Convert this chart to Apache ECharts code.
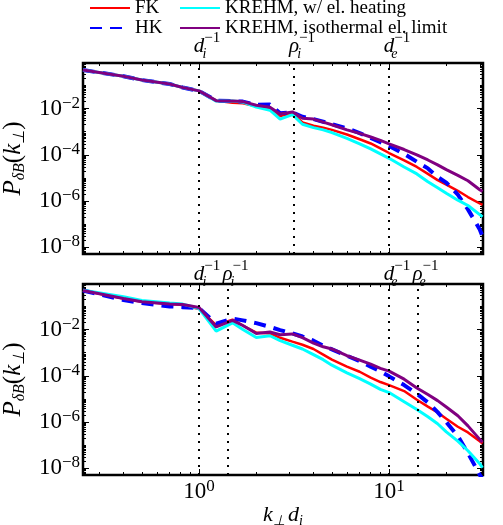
<!DOCTYPE html>
<html>
<head>
<meta charset="utf-8">
<script src="https://cdn.jsdelivr.net/npm/echarts@6/dist/echarts.min.js"></script>
<style>
  html, body { margin: 0; padding: 0; background: #fff; }
  #main { width: 503px; height: 525px; }
</style>
</head>
<body>
<div id="main"></div>
<script>
// k_perp d_i sample points shared by all curves
const kPerp = [0.245, 0.4, 0.5, 0.7, 0.82, 1.0, 1.23, 1.5, 1.7, 2.0, 2.36, 2.67, 3.1, 3.5, 4, 4.5, 5, 6, 7, 8, 9, 10, 12, 14, 16, 18, 20, 23, 26, 30, 31];

// top panel
const topFK = [4.6e-1, 2.5e-1, 1.7e-1, 1.15e-1, 8.1e-2, 5.8e-2, 2.2e-2, 1.8e-2, 1.7e-2, 1.26e-2, 9.3e-3, 4.7e-3, 6.3e-3, 2.5e-3, 1.8e-3, 1.5e-3, 1.2e-3, 7.6e-4, 4.7e-4, 3.1e-4, 1.9e-4, 1.2e-4, 5.8e-5, 3.0e-5, 1.5e-5, 8.1e-6, 5.2e-6, 2.8e-6, 1.5e-6, 7.9e-7, 6.9e-7];
const topHK = [4.6e-1, 2.5e-1, 1.7e-1, 1.15e-1, 8.1e-2, 5.8e-2, 2.2e-2, 2.1e-2, 2.0e-2, 1.45e-2, 1.5e-2, 6.3e-3, 6.9e-3, 4.4e-3, 3.5e-3, 2.7e-3, 2.1e-3, 1.4e-3, 8.7e-4, 5.4e-4, 3.5e-4, 2.4e-4, 1.1e-4, 5.0e-5, 2.6e-5, 1.1e-5, 6.3e-6, 1.9e-6, 4.4e-7, 6.0e-8, 3.0e-8];
const topHeat = [4.6e-1, 2.5e-1, 1.7e-1, 1.15e-1, 8.1e-2, 5.8e-2, 2.1e-2, 2.1e-2, 1.9e-2, 1.15e-2, 8.5e-3, 3.5e-3, 5.5e-3, 2.1e-3, 1.5e-3, 1.2e-3, 9.1e-4, 5.1e-4, 3.0e-4, 1.8e-4, 1.1e-4, 7.1e-5, 3.0e-5, 1.5e-5, 6.9e-6, 3.8e-6, 2.2e-6, 1.1e-6, 6.5e-7, 2.6e-7, 2.1e-7];
const topIso = [4.6e-1, 2.5e-1, 1.7e-1, 1.15e-1, 8.1e-2, 5.8e-2, 2.2e-2, 2.1e-2, 2.0e-2, 1.4e-2, 1.15e-2, 5.8e-3, 7.2e-3, 3.8e-3, 3.5e-3, 2.6e-3, 2.0e-3, 1.2e-3, 8.5e-4, 5.9e-4, 4.2e-4, 3.0e-4, 1.7e-4, 1.0e-4, 6.0e-5, 3.7e-5, 2.3e-5, 1.3e-5, 7.6e-6, 3.1e-6, 2.6e-6];

// bottom panel
const botFK = [4.9e-1, 2.2e-1, 1.6e-1, 1.26e-1, 1.15e-1, 7.8e-2, 1.55e-2, 2.7e-2, 1.5e-2, 7.4e-3, 6.8e-3, 4.4e-3, 3.0e-3, 2.2e-3, 1.45e-3, 8.3e-4, 5.0e-4, 2.5e-4, 1.5e-4, 8.3e-5, 5.4e-5, 4.0e-5, 2.2e-5, 9.3e-6, 4.7e-6, 2.6e-6, 1.4e-6, 6.3e-7, 3.6e-7, 1.5e-7, 1.2e-7];
const botHK = [4.9e-1, 1.9e-1, 1.4e-1, 1.0e-1, 9.3e-2, 8.5e-2, 1.8e-2, 3.0e-2, 2.5e-2, 1.9e-2, 1.3e-2, 9.5e-3, 6.8e-3, 5.0e-3, 3.3e-3, 2.0e-3, 1.4e-3, 7.4e-4, 4.3e-4, 2.5e-4, 1.55e-4, 9.5e-5, 4.0e-5, 1.7e-5, 7.1e-6, 2.7e-6, 1.0e-6, 2.5e-7, 4.6e-8, 5.3e-9, 3.5e-9];
const botHeat = [5.0e-1, 2.6e-1, 1.8e-1, 1.4e-1, 1.26e-1, 8.1e-2, 8.5e-3, 1.95e-2, 1.0e-2, 4.5e-3, 5.4e-3, 3.3e-3, 2.1e-3, 1.45e-3, 8.3e-4, 5.0e-4, 2.9e-4, 1.35e-4, 7.6e-5, 4.4e-5, 2.6e-5, 1.9e-5, 7.6e-6, 3.5e-6, 1.7e-6, 8.5e-7, 3.8e-7, 1.5e-7, 5.8e-8, 1.6e-8, 1.07e-8];
const botIso = [4.9e-1, 2.2e-1, 1.6e-1, 1.26e-1, 1.2e-1, 8.9e-2, 1.3e-2, 2.5e-2, 1.5e-2, 6.8e-3, 7.9e-3, 6.0e-3, 6.5e-3, 4.5e-3, 2.6e-3, 1.8e-3, 1.45e-3, 7.4e-4, 4.8e-4, 3.2e-4, 2.1e-4, 1.6e-4, 7.2e-5, 3.0e-5, 1.55e-5, 8.5e-6, 4.5e-6, 1.9e-6, 6.9e-7, 1.8e-7, 1.35e-7];

// characteristic scales (dotted lines)
const topLineK = [1, 3.16, 10];
const topLineSym = ['d', 'ρ', 'd'];
const topLineSub = ['i', 'i', 'e'];
const botLineK = [1, 1.41, 10, 14.1];
const botLineSym = ['d', 'ρ', 'd', 'ρ'];
const botLineSub = ['i', 'i', 'e', 'e'];

const seriesNames = ['FK', 'HK', 'KREHM, w/ el. heating', 'KREHM, isothermal el. limit'];
const xMajor = [1, 10];
const yMajor = [1e-8, 1e-6, 1e-4, 1e-2];

const serif = 'Liberation Serif';
const xMin = 0.245, xMax = 31.2;
const yMin = 5.2e-9, yMax = 0.93;

// minor tick positions
const xMinor = [];
[0.1, 1, 10].forEach(d => { for (let m = 2; m <= 9; m++) xMinor.push(+(m * d).toPrecision(3)); });
const yMinor = [];
for (let e = -9; e <= -1; e++) {
  for (let m = 1; m <= 9; m++) {
    if (m === 1 && e % 2 === 0) continue;
    yMinor.push(m * Math.pow(10, e));
  }
}

const powLabel = v => {
  const e = Math.round(Math.log10(v));
  return '{b|10}{e|' + (e < 0 ? '−' + (-e) : e) + '}';
};
const powRich = {
  b: { fontFamily: serif, fontSize: 23, color: '#000', lineHeight: 28 },
  e: { fontFamily: serif, fontSize: 17, color: '#000', verticalAlign: 'top' }
};
const mathRich = {
  v: { fontFamily: serif, fontStyle: 'italic', fontSize: 21, color: '#000', lineHeight: 30 },
  sb: { fontFamily: serif, fontStyle: 'italic', fontSize: 14, color: '#000', verticalAlign: 'bottom', width: 0 },
  sp: { fontFamily: serif, fontSize: 15, color: '#000', verticalAlign: 'top' }
};

const colors = ['#ff0000', '#0000ff', '#00ffff', '#800080'];
const widths = [2.5, 4, 3, 3];

function makeAxes(g, showX) {
  const xs = [], ys = [];
  const base = {
    gridIndex: g, type: 'log', min: xMin, max: xMax,
    axisLine: { show: false, onZero: false },
    splitLine: { show: false }
  };
  ['bottom', 'top'].forEach(pos => {
    xs.push(Object.assign({}, base, {
      position: pos,
      axisTick: { inside: true, length: 6, customValues: xMajor, lineStyle: { color: '#000', width: 1 } },
      axisLabel: (pos === 'bottom' && showX) ? {
        show: true, customValues: xMajor, formatter: powLabel, rich: powRich, margin: 3
      } : { show: false },
      name: (pos === 'bottom' && showX) ? '{v|k}{s|⊥} {v|d}{s|i}' : '',
      nameLocation: 'middle', nameGap: 20,
      nameTextStyle: {
        rich: {
          v: { fontFamily: serif, fontStyle: 'italic', fontSize: 22, color: '#000', lineHeight: 26 },
          s: { fontFamily: serif, fontStyle: 'italic', fontSize: 14, color: '#000', verticalAlign: 'bottom' }
        }
      }
    }));
    xs.push(Object.assign({}, base, {
      position: pos,
      axisTick: { inside: true, length: 3, customValues: xMinor, lineStyle: { color: '#000', width: 1 } },
      axisLabel: { show: false }
    }));
  });
  const ybase = {
    gridIndex: g, type: 'log', min: yMin, max: yMax,
    axisLine: { show: false, onZero: false },
    splitLine: { show: false }
  };
  ['left', 'right'].forEach(pos => {
    ys.push(Object.assign({}, ybase, {
      position: pos,
      axisTick: { inside: true, length: 6, customValues: yMajor, lineStyle: { color: '#000', width: 1 } },
      axisLabel: pos === 'left' ? {
        show: true, customValues: yMajor, formatter: powLabel, rich: powRich, margin: 3
      } : { show: false },
      name: pos === 'left' ? '{p|P}{s|δB}{n|(}{p|k}{s|⊥}{n|)}' : '',
      nameLocation: 'middle', nameGap: 51, nameRotate: 90,
      nameTextStyle: {
        rich: {
          p: { fontFamily: serif, fontStyle: 'italic', fontSize: 25, color: '#000', lineHeight: 30 },
          n: { fontFamily: serif, fontSize: 25, color: '#000' },
          s: { fontFamily: serif, fontStyle: 'italic', fontSize: 16, color: '#000', verticalAlign: 'bottom' }
        }
      }
    }));
    ys.push(Object.assign({}, ybase, {
      position: pos,
      axisTick: { inside: true, length: 3, customValues: yMinor, lineStyle: { color: '#000', width: 1 } },
      axisLabel: { show: false }
    }));
  });
  return { xs, ys };
}

function makeSeries(g, values, lineK, lineSym, lineSub, labelDist) {
  return values.map((vals, i) => {
    const s = {
      name: seriesNames[i],
      type: 'line',
      xAxisIndex: g * 4,
      yAxisIndex: g * 4,
      symbol: 'none',
      clip: true,
      data: kPerp.map((k, j) => [k, vals[j]]),
      lineStyle: {
        color: colors[i], width: widths[i],
        type: i === 1 ? [12, 8] : 'solid'
      },
      itemStyle: { color: colors[i] }
    };
    if (i === 0) {
      s.markLine = {
        silent: true,
        symbol: ['none', 'none'],
        animation: false,
        lineStyle: { color: '#000', type: [2, 6], width: 2 },
        label: {
          show: true, position: 'end', distance: labelDist,
          padding: [0, 0, 0, 16],
          formatter: p => '{v|' + lineSym[p.dataIndex] + '}{sb|' + lineSub[p.dataIndex] + '}{sp|−1}',
          rich: mathRich
        },
        data: lineK.map(k => ({ xAxis: k }))
      };
    }
    return s;
  });
}

const a0 = makeAxes(0, false);
const a1 = makeAxes(1, true);

const legendBase = {
  orient: 'vertical', top: -7,
  itemWidth: 40, itemHeight: 10, itemGap: 0,
  itemStyle: { opacity: 0 },
  textStyle: { fontFamily: serif, fontSize: 19, color: '#000', lineHeight: 20 }
};

const gridBase = {
  left: 83, width: 400, height: 191,
  containLabel: false, outerBoundsMode: 'none',
  show: true, borderColor: '#000', borderWidth: 2.5
};

const option = {
  animation: false,
  backgroundColor: '#fff',
  legend: [
    Object.assign({ data: seriesNames.slice(0, 2), left: 84 }, legendBase),
    Object.assign({ data: seriesNames.slice(2), left: 174 }, legendBase)
  ],
  grid: [
    Object.assign({ top: 63 }, gridBase),
    Object.assign({ top: 284 }, gridBase)
  ],
  xAxis: a0.xs.concat(a1.xs),
  yAxis: a0.ys.concat(a1.ys),
  series: makeSeries(0, [topFK, topHK, topHeat, topIso], topLineK, topLineSym, topLineSub, 2)
    .concat(makeSeries(1, [botFK, botHK, botHeat, botIso], botLineK, botLineSym, botLineSub, -5))
};

const chart = echarts.init(document.getElementById('main'));
chart.setOption(option);
</script>
</body>
</html>
